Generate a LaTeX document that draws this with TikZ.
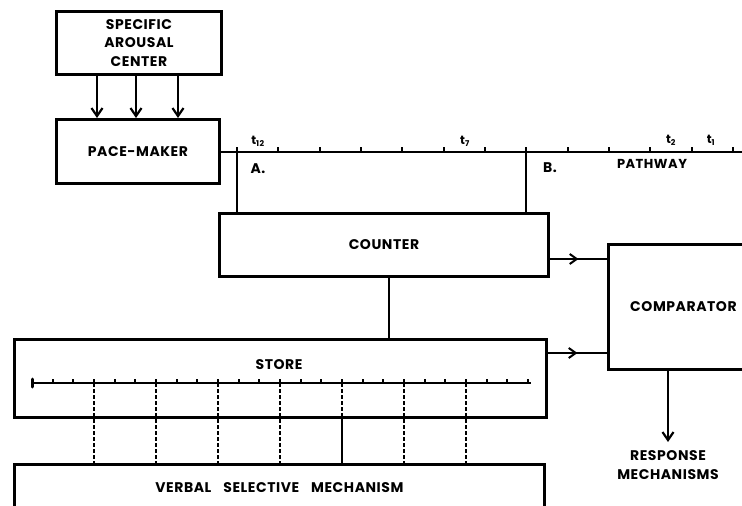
\documentclass[tikz,border=0pt]{standalone}
\usepackage{fontspec}
\setsansfont{Poppins}[LetterSpace=4]
\usetikzlibrary{arrows.meta,decorations.markings}
\begin{document}
\begin{tikzpicture}[x=1pt,y=-1pt,
  box/.style={draw, line width=2.9pt, inner sep=0pt},
  lbl/.style={font=\sffamily\bfseries\fontsize{14}{18.5}\selectfont, inner sep=0pt, align=center},
  small/.style={font=\sffamily\bfseries\fontsize{12}{12}\selectfont, inner sep=0pt},
  wire/.style={line width=2.3pt},
  tick/.style={line width=2pt},
  arr/.style={wire, -{Straight Barb[length=8pt,width=11pt,line width=2.2pt]}},
  midarr/.style={wire, postaction={decorate}, decoration={markings,
     mark=at position 0.5 with {\arrow{Straight Barb[length=7pt,width=10pt,line width=2pt]}}}},
  dash line/.style={line width=2.4pt, dash pattern=on 4pt off 2pt}
]
\useasboundingbox (0,0) rectangle (742,506);
\clip (0,0) rectangle (742,506);
\fill[white] (0,0) rectangle (742,506);

% boxes
\node[box, lbl, anchor=north west, minimum width=165pt, minimum height=63pt] (sac) at (55,10)
  {SPECIFIC\\AROUSAL\\CENTER};
\node[box, lbl, anchor=north west, minimum width=163pt, minimum height=64pt] (pm) at (55,118) {PACE-MAKER};
\node[box, lbl, anchor=north west, minimum width=329pt, minimum height=63pt] (counter) at (218,212) {COUNTER};
\node[box, lbl, anchor=north west, minimum width=150pt, minimum height=125pt] (comp) at (607,243) {COMPARATOR};
\node[box, anchor=north west, minimum width=532pt, minimum height=78pt] (store) at (13,338) {};
\node[lbl] (storetxt) at (279,365) {STORE};
\node[box, lbl, anchor=north west, minimum width=530pt, minimum height=46pt] (verbal) at (13,463)
  {VERBAL\hspace*{12pt}SELECTIVE\hspace*{12pt}MECHANISM};
\node[lbl] (resp) at (668,465) {RESPONSE\\MECHANISMS};
\coordinate (respTip) at (668,442);

% arousal -> pacemaker
\foreach \x in {97,136,178}
  \draw[arr] (sac.south -| \x,0) -- (pm.north -| \x,0);

% pathway
\coordinate (pathEnd) at (745,152);
\draw[wire] (pm.east |- 0,152) -- (pathEnd);
\foreach \k in {0,...,12}
  \draw[tick] (237+\k*41.33,152) -- ++(0,-5);
\draw[wire] (237,147) -- (counter.north -| 237,0);
\draw[wire] (526.3,147) -- (counter.north -| 526.3,0);
\node[small] (t12) at (258,141) {t\textsubscript{12}};
\node[small] (t7) at (465,141) {t\textsubscript{7}};
\node[small] (t2) at (671,140) {t\textsubscript{2}};
\node[small] (t1) at (711,140) {t\textsubscript{1}};
\node[lbl] (A) at (258,169) {A.};
\node[lbl] (B) at (550,168) {B.};
\node[lbl, font=\sffamily\bfseries\fontsize{13}{14}\selectfont] (pw) at (652,164) {PATHWAY};

% counter -> store, comparator
\draw[wire] (counter.south -| 389,0) -- (store.north -| 389,0);
\draw[midarr] (counter.east |- 0,259) -- (comp.west |- 0,259);
\draw[midarr] (store.east |- 0,353) -- (comp.west |- 0,353);
\draw[arr] (comp.south -| respTip) -- (respTip);

% store scale
\draw[wire] (32,383) -- (531,383);
\draw[line width=3pt, line cap=round] (32,379) -- (32,387);
\foreach \k in {1,...,24}
  \draw[tick] (32+\k*20.67,383) -- ++(0,-4.5);
\foreach \k in {3,6,9,12,18,21}
  \draw[dash line] (32+\k*20.67,383) -- (verbal.north -| 32+\k*20.67,0);
\draw[dash line] (32+15*20.67,383) -- (store.south -| 32+15*20.67,0);
\draw[wire] (store.south -| 32+15*20.67,0) -- (verbal.north -| 32+15*20.67,0);
\end{tikzpicture}
\end{document}
